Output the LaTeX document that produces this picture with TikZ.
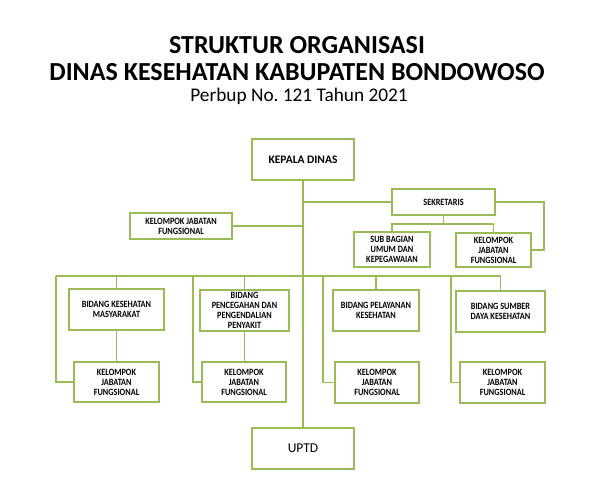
\documentclass[tikz,border=0pt]{standalone}
\usepackage{fontspec}
\setmainfont{Carlito}
\newfontfamily\boxfont[FakeStretch=0.86]{Carlito}
\definecolor{olive}{HTML}{9BBB59}
\frenchspacing
\begin{document}
\begin{tikzpicture}[x=1pt,y=-1pt,
  box/.style={draw=olive,line width=1.3pt,rectangle,inner sep=1pt,align=center,
    font=\boxfont\fontsize{9.6}{10}\selectfont\bfseries,text=black},
  conn/.style={draw=olive,line width=1.3pt},
  ttl/.style={anchor=base,inner sep=0pt,text=black}]
\useasboundingbox (0,0) rectangle (609,497);
\node[ttl,font=\fontsize{26}{28}\selectfont\bfseries] (t1) at (297,54) {STRUKTUR ORGANISASI};
\node[ttl,font=\fontsize{26}{28}\selectfont\bfseries] (t2) at (297,81) {DINAS KESEHATAN KABUPATEN BONDOWOSO};
\node[ttl,font=\fontsize{19.3}{21}\selectfont] (t3) at (299,102) {Perbup No.\ 121 Tahun 2021};

\node[box,minimum width=102pt,minimum height=41pt,font=\fontsize{11.5}{13}\selectfont\bfseries] (kd) at (303,159.5) {KEPALA DINAS};
\node[box,minimum width=102pt,minimum height=41pt,font=\fontsize{13.5}{15}\selectfont] (uptd) at (303,448.5) {UPTD};
\node[box,minimum width=103pt,minimum height=26pt] (sek) at (443.5,202) {SEKRETARIS};
\node[box,minimum width=102pt,minimum height=26pt] (kjf0) at (181,226) {KELOMPOK JABATAN\\FUNGSIONAL};
\node[box,minimum width=76pt,minimum height=35pt] (sub) at (392,249.5) {SUB BAGIAN\\UMUM DAN\\KEPEGAWAIAN};
\node[box,minimum width=75pt,minimum height=34pt] (kjfs) at (493.5,250) {KELOMPOK\\JABATAN\\FUNGSIONAL};

\node[box,minimum width=95pt,minimum height=41pt] (b1) at (116.5,309.5) {BIDANG KESEHATAN\\MASYARAKAT};
\node[box,minimum width=89pt,minimum height=41pt] (b2) at (244.5,310.5) {BIDANG\\PENCEGAHAN DAN\\PENGENDALIAN\\PENYAKIT};
\node[box,minimum width=86pt,minimum height=41pt] (b3) at (376,310.5) {BIDANG PELAYANAN\\KESEHATAN};
\node[box,minimum width=89pt,minimum height=41pt] (b4) at (500.5,311.5) {BIDANG SUMBER\\DAYA KESEHATAN};

\node[box,minimum width=85pt,minimum height=40pt] (k1) at (116.5,382) {KELOMPOK\\JABATAN\\FUNGSIONAL};
\node[box,minimum width=84pt,minimum height=40pt] (k2) at (244,382) {KELOMPOK\\JABATAN\\FUNGSIONAL};
\node[box,minimum width=84pt,minimum height=41pt] (k3) at (377,382.5) {KELOMPOK\\JABATAN\\FUNGSIONAL};
\node[box,minimum width=85pt,minimum height=41pt] (k4) at (502.5,382.5) {KELOMPOK\\JABATAN\\FUNGSIONAL};

\coordinate (busL) at (56,276);
\coordinate (busR) at (500.5,276);
\coordinate (g2) at (193,276);
\coordinate (g3) at (323,276);
\coordinate (g4) at (451,276);
\coordinate (sekR) at (544,202);
\coordinate (sekJ) at (443.5,224);

\draw[conn] (kd.south) -- (uptd.north);
\draw[conn] (kd.south |- sek.west) -- (sek.west);
\draw[conn] (kjf0.east) -- (kjf0.east -| kd.south);
\draw[conn] (sek.south) -- (sekJ);
\draw[conn] (sub.north) -- (sub.north |- sekJ) -- (kjfs.north |- sekJ) -- (kjfs.north);
\draw[conn] (sek.east) -- (sekR) -- (sekR |- kjfs.east) -- (kjfs.east);

\draw[conn] (busL) -- (busR) -- (b4.north);
\draw[conn] (b1.north) -- (b1.north |- busL);
\draw[conn] (b2.north) -- (b2.north |- busL);
\draw[conn] (b3.north) -- (b3.north |- busL);
\draw[conn] (b1.south) -- (k1.north);
\draw[conn] (b2.south) -- (b2.south |- k2.north);
\draw[conn] (busL) -- (busL |- k1.west) -- (k1.west);
\draw[conn] (g2) -- (g2 |- k2.west) -- (k2.west);
\draw[conn] (g3) -- (g3 |- k3.west) -- (k3.west);
\draw[conn] (g4) -- (g4 |- k4.west) -- (k4.west);
\end{tikzpicture}
\end{document}
